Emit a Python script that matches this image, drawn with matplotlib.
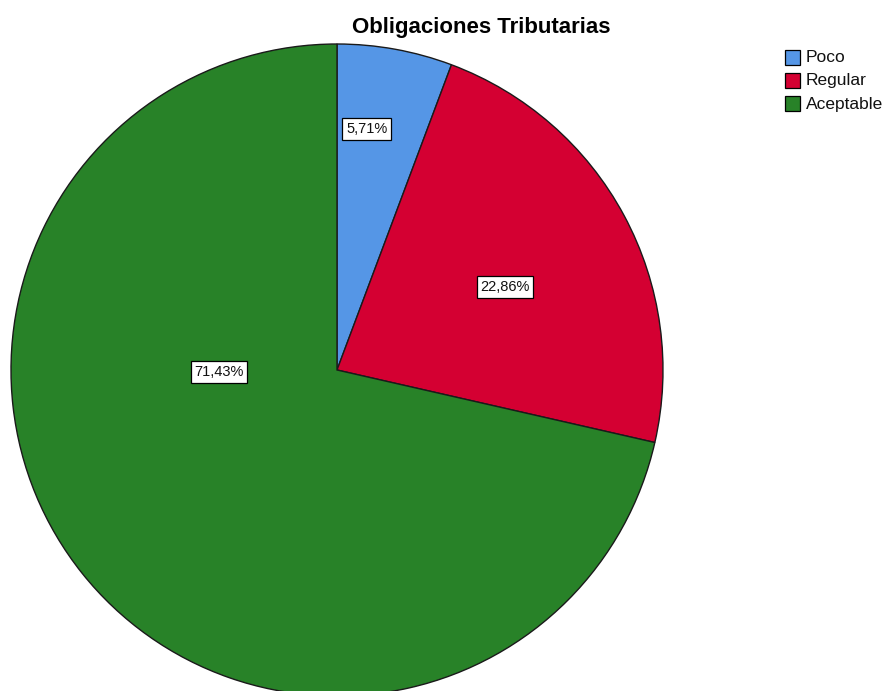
import numpy as np
import matplotlib
matplotlib.use("Agg")
import matplotlib.pyplot as plt
from matplotlib.patches import Rectangle

plt.rcParams['font.family'] = ['Liberation Sans', 'DejaVu Sans']

categories = ["Poco", "Regular", "Aceptable"]
values = [5.71, 22.86, 71.43]
labels = ["5,71%", "22,86%", "71,43%"]
colors = ["#5596E6", "#D40032", "#288228"]

W, H = 891, 691
fig = plt.figure(figsize=(W / 100, H / 100), dpi=100)
ax = fig.add_axes([0, 0, 1, 1])

cx, cy, R = 337, H - 370, 326
wedges, _ = ax.pie(values, colors=colors, startangle=90, counterclock=False,
                   center=(cx, cy), radius=R, frame=True,
                   wedgeprops=dict(edgecolor="#1a1a1a", linewidth=1.0))
ax.set_xlim(0, W)
ax.set_ylim(0, H)
ax.set_aspect('equal')
ax.axis('off')

# label placement (polar: angle deg, fraction of radius)
label_pos = [(83.0, 0.745), (26.3, 0.575), (181.0, 0.362)]
for lab, (ang, fr) in zip(labels, label_pos):
    a = np.deg2rad(ang)
    ax.text(cx + fr * R * np.cos(a), cy + fr * R * np.sin(a), lab,
            ha='center', va='center', fontsize=10.5, color='#111111',
            bbox=dict(boxstyle='square,pad=0.25', fc='white', ec='black', lw=0.9))

fig.text(481 / W, 1 - 28 / H, "Obligaciones Tributarias", ha='center', va='center',
         fontsize=16, fontweight='bold')

# legend
for i, (cat, col) in enumerate(zip(categories, colors)):
    y = 57 + i * 23
    fig.patches.append(Rectangle((785 / W, 1 - (y + 8) / H), 15 / W, 15 / H,
                                 transform=fig.transFigure, fc=col, ec='black', lw=0.9))
    fig.text(806 / W, 1 - (y + 1) / H, cat, ha='left', va='center', fontsize=12.5,
             color='#111111')

fig.savefig("out.png", dpi=100)
